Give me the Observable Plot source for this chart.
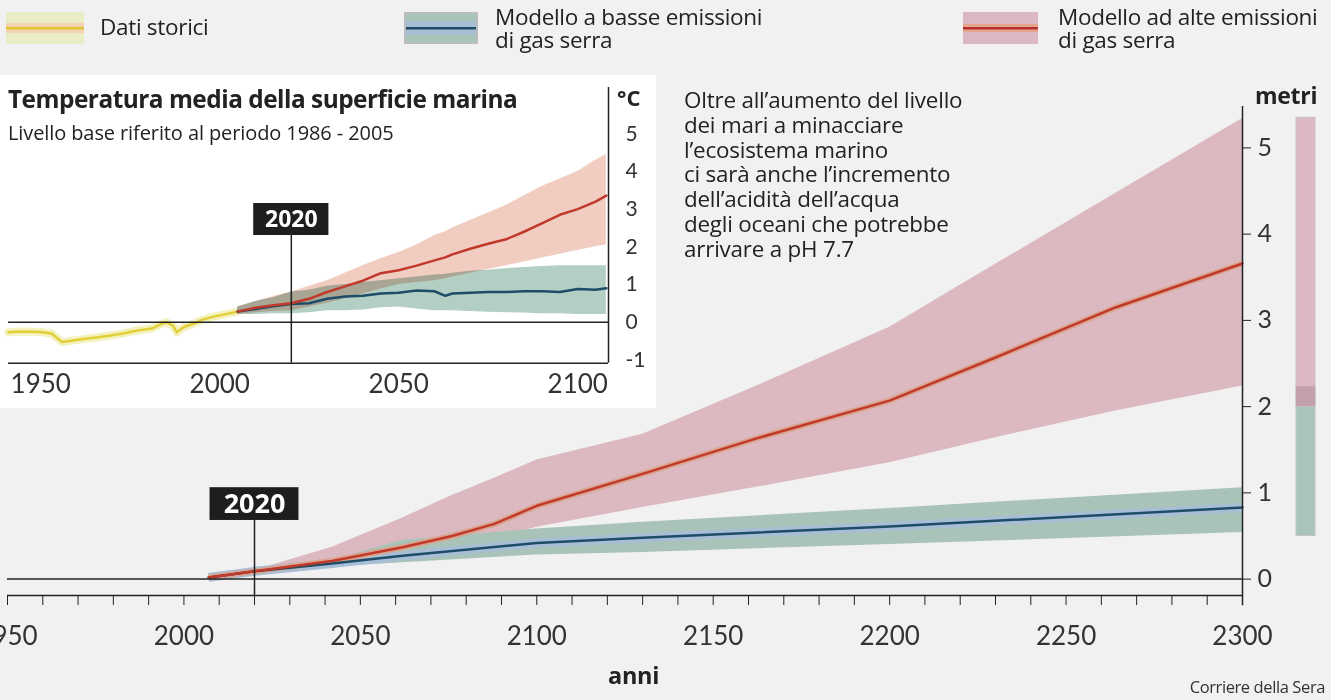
<!DOCTYPE html>
<html>
<head>
<meta charset="utf-8">
<script src="https://cdn.jsdelivr.net/npm/d3@7"></script>
<script src="https://cdn.jsdelivr.net/npm/@observablehq/plot@0.6"></script>
<style>
  html, body { margin: 0; padding: 0; background: #f1f1f1; }
  #page { position: relative; width: 1331px; height: 700px; overflow: hidden; background: #f1f1f1; font-family: "Open Sans", sans-serif; color: #222; }
  .abs { position: absolute; white-space: nowrap; }
  .leg { font-size: 22.5px; line-height: 23px; color: #222; letter-spacing: -0.3px; }
  #inset { position: absolute; left: 0; top: 75px; width: 656px; height: 333px; background: #fff; }
  #note { font-size: 22.4px; line-height: 24.8px; letter-spacing: -0.2px; }
</style>
</head>
<body>
<div id="page">
  <div id="main" class="abs" style="left:0;top:0"></div>
  <div id="inset"></div>

  <!-- legend -->
  <svg class="abs" style="left:6px;top:12px" width="78" height="32">
    <rect width="78" height="32" fill="#e8edc6"/>
    <rect y="11" width="78" height="10" fill="#f4d2b0"/>
    <rect y="15" width="78" height="2.5" fill="#e0c634"/>
  </svg>
  <div class="abs leg" style="left:100px;top:15px">Dati storici</div>

  <svg class="abs" style="left:404px;top:12px" width="74" height="32">
    <rect width="74" height="32" fill="#bdbdbd"/>
    <rect x="2" y="2" width="70" height="28" fill="#a9c4b9"/>
    <rect x="2" y="9" width="70" height="14" fill="#a7bed4"/>
    <rect x="2" y="15" width="70" height="2.5" fill="#1f4d68"/>
  </svg>
  <div class="abs leg" style="left:495px;top:5px">Modello a basse emissioni</div>
  <div class="abs leg" style="left:495px;top:28px">di gas serra</div>

  <svg class="abs" style="left:963px;top:12px" width="75" height="32">
    <rect width="75" height="32" fill="#dcb9c2"/>
    <rect y="12" width="75" height="8" fill="#e3a58e"/>
    <rect y="15" width="75" height="2.5" fill="#b8302a"/>
  </svg>
  <div class="abs leg" style="left:1058px;top:5px">Modello ad alte emissioni</div>
  <div class="abs leg" style="left:1058px;top:28px">di gas serra</div>

  <!-- inset texts -->
  <div class="abs" style="left:8px;top:82px;font-family:'Open Sans';font-weight:700;font-size:24.4px;letter-spacing:-0.5px">Temperatura media della superficie marina</div>
  <div class="abs" style="left:8px;top:119px;font-family:'Open Sans';font-size:20px;letter-spacing:-0.1px">Livello base riferito al periodo 1986 - 2005</div>
  <div class="abs" style="left:617px;top:82px;font-family:'Open Sans';font-weight:700;font-size:22px">°C</div>

  <!-- annotation -->
  <div id="note" class="abs" style="left:684px;top:88px">Oltre all’aumento del livello<br>dei mari a minacciare<br>l’ecosistema marino<br>ci sarà anche l’incremento<br>dell’acidità dell’acqua<br>degli oceani che potrebbe<br>arrivare a pH 7.7</div>

  <div class="abs" style="left:1255px;top:79px;font-weight:700;font-size:23px;letter-spacing:-0.3px">metri</div>
  <div class="abs" style="left:608px;top:659px;font-weight:700;font-size:23.5px;letter-spacing:-0.3px">anni</div>
  <div class="abs" style="right:6px;top:679px;font-size:16.5px;line-height:16.5px;letter-spacing:-0.4px;color:#333">Corriere della Sera</div>
</div>

<script>
// ---------- MAIN CHART DATA: sea level rise (metres) ----------
const yearsLow  = [2007, 2020, 2042, 2062, 2100, 2130, 2200, 2300];
const lowMid    = [0.02, 0.09, 0.18, 0.27, 0.42, 0.48, 0.61, 0.83];
const lowMin    = [0.02, 0.08, 0.14, 0.19, 0.28, 0.31, 0.40, 0.54];
const lowMax    = [0.02, 0.10, 0.22, 0.45, 0.58, 0.66, 0.82, 1.06];

const yearsHigh = [2007, 2020, 2042, 2062, 2076, 2088, 2100, 2130, 2163, 2200, 2230, 2264, 2300];
const highMid   = [0.02, 0.09, 0.21, 0.37, 0.50, 0.64, 0.85, 1.22, 1.64, 2.07, 2.57, 3.15, 3.66];
const highMin   = [0.02, 0.08, 0.17, 0.27, 0.36, 0.47, 0.60, 0.83, 1.07, 1.35, 1.64, 1.95, 2.24];
const highMax   = [0.02, 0.10, 0.37, 0.71, 0.97, 1.17, 1.38, 1.68, 2.25, 2.92, 3.65, 4.47, 5.34];

// range bar at the right (2300 ranges)
const rangeNames = ["basse emissioni", "alte emissioni"];
const rangeLo    = [0.50, 2.00];
const rangeHi    = [2.23, 5.35];

const xTicksMain  = [1950, 2000, 2050, 2100, 2150, 2200, 2250, 2300];
const yTicksMain  = [0, 1, 2, 3, 4, 5];
const markYear    = 2020;

// ---------- INSET DATA: sea surface temperature anomaly (°C) ----------
const histYears = [1941, 1945, 1950, 1953, 1956, 1958, 1962, 1966, 1969, 1973, 1977, 1981, 1983, 1985, 1987, 1988, 1990, 1993, 1995, 1998, 2001, 2005];
const histVals  = [-0.27, -0.25, -0.26, -0.30, -0.53, -0.50, -0.45, -0.40, -0.36, -0.30, -0.22, -0.17, -0.08, 0.00, -0.10, -0.27, -0.13, -0.03, 0.06, 0.14, 0.20, 0.28];

const scenYears = [2005, 2010, 2015, 2020, 2025, 2030, 2035, 2040, 2045, 2050, 2055, 2060, 2063, 2065, 2070, 2075, 2080, 2085, 2090, 2095, 2100, 2105, 2108];
const redT      = [0.28, 0.38, 0.45, 0.50, 0.62, 0.80, 0.95, 1.10, 1.30, 1.38, 1.50, 1.64, 1.72, 1.80, 1.95, 2.08, 2.20, 2.40, 2.62, 2.85, 3.00, 3.20, 3.36];
const redTlo    = [0.20, 0.25, 0.28, 0.30, 0.40, 0.50, 0.62, 0.75, 0.88, 1.00, 1.05, 1.10, 1.15, 1.20, 1.30, 1.40, 1.50, 1.60, 1.70, 1.80, 1.90, 2.00, 2.05];
const redThi    = [0.40, 0.55, 0.68, 0.80, 0.95, 1.10, 1.30, 1.50, 1.68, 1.85, 2.05, 2.30, 2.40, 2.50, 2.70, 2.90, 3.10, 3.35, 3.60, 3.80, 4.00, 4.30, 4.45];
const blueT     = [0.28, 0.35, 0.42, 0.48, 0.50, 0.62, 0.68, 0.70, 0.76, 0.78, 0.84, 0.82, 0.70, 0.76, 0.78, 0.80, 0.80, 0.82, 0.82, 0.80, 0.88, 0.86, 0.90];
const blueTlo   = [0.20, 0.20, 0.22, 0.22, 0.25, 0.30, 0.30, 0.32, 0.38, 0.40, 0.35, 0.30, 0.30, 0.30, 0.28, 0.26, 0.25, 0.24, 0.22, 0.22, 0.20, 0.20, 0.20];
const blueThi   = [0.40, 0.55, 0.65, 0.80, 0.85, 0.95, 1.00, 1.05, 1.10, 1.15, 1.20, 1.25, 1.27, 1.30, 1.35, 1.38, 1.42, 1.45, 1.48, 1.50, 1.50, 1.50, 1.50];

const xTicksInset = [1950, 2000, 2050, 2100];
const yTicksInset = [-1, 0, 1, 2, 3, 4, 5];

// ---------- build tables ----------
const lowData  = yearsLow.map((year, i) => ({year, mid: lowMid[i], lo: lowMin[i], hi: lowMax[i]}));
const highData = yearsHigh.map((year, i) => ({year, mid: highMid[i], lo: highMin[i], hi: highMax[i]}));
const ranges   = rangeNames.map((name, i) => ({name, lo: rangeLo[i], hi: rangeHi[i]}));
const overlap  = [{lo: d3.max(rangeLo), hi: d3.min(rangeHi)}];
const hist     = histYears.map((year, i) => ({year, v: histVals[i]}));
const scen     = scenYears.map((year, i) => ({year, red: redT[i], redLo: redTlo[i], redHi: redThi[i], blue: blueT[i], blueLo: blueTlo[i], blueHi: blueThi[i]}));

const ink = "#222";
const yDomMain = [-0.19, 5.48];
const xDomMain = [1950, 2300];
const barX = [2315.3, 2320.7];

const main = Plot.plot({
  width: 1331, height: 700,
  marginLeft: 7, marginRight: 89, marginTop: 106, marginBottom: 105,
  x: {domain: xDomMain, label: null},
  y: {domain: yDomMain, label: null},
  style: {background: "transparent", fontFamily: "Lato", color: ink, overflow: "visible"},
  marks: [
    Plot.areaY(highData, {x: "year", y1: "lo", y2: "hi", fill: "#dcb8c1"}),
    Plot.areaY(lowData, {x: "year", y1: "lo", y2: "hi", fill: "#a9c3b9"}),
    Plot.lineY(lowData, {x: "year", y: "mid", stroke: "#a8bed6", strokeWidth: 9, strokeLinecap: "butt"}),
    Plot.lineY(highData, {x: "year", y: "mid", stroke: "#dba48d", strokeWidth: 6, strokeLinecap: "butt"}),
    Plot.lineY(lowData, {x: "year", y: "mid", stroke: "#1f4d68", strokeWidth: 2.5}),
    Plot.lineY(highData, {x: "year", y: "mid", stroke: "#c0392b", strokeWidth: 2.5}),
    // range bar
    Plot.rect(ranges, {x1: () => barX[0], x2: () => barX[1], y1: "lo", y2: "hi",
      fill: d => d.name === "alte emissioni" ? "#dbb8c2" : "#a9c4b9", stroke: "#c6c6c6", strokeWidth: 1}),
    Plot.rect(overlap, {x1: () => barX[0], x2: () => barX[1], y1: "lo", y2: "hi", fill: "#c3a0aa"}),
    // reference lines and axes
    Plot.ruleY([0], {stroke: ink, strokeWidth: 1.5}),
    Plot.ruleY([yDomMain[0]], {stroke: ink, strokeWidth: 1.5}),
    Plot.ruleX([xDomMain[1]], {y1: -0.31, y2: yDomMain[1], stroke: ink, strokeWidth: 1.5}),
    Plot.axisX({ticks: d3.range(1950, 2301, 10), tickSize: 10, tickFormat: () => "", stroke: ink, strokeWidth: 1, label: null}),
    Plot.axisX({ticks: xTicksMain, tickSize: 0, tickPadding: 31, fontSize: 26, tickFormat: d => String(d), fill: "#333", label: null}),
    Plot.axisY({anchor: "right", ticks: yTicksMain, tickSize: 8, tickPadding: 7, fontSize: 25, tickFormat: d => String(d), fill: "#333", label: null}),
    // 2020 marker
    Plot.ruleX([markYear], {y1: yDomMain[0], y2: 0.7, stroke: ink, strokeWidth: 1.5}),
    Plot.rect([markYear], {x1: d => d - 12.6, x2: d => d + 12.6, y1: 0.68, y2: 1.06, fill: "#1e1e1e"}),
    Plot.text([markYear], {x: d => d, y: 0.87, text: d => String(d), fill: "#fff", fontSize: 27, fontWeight: "bold", fontFamily: "Open Sans"})
  ]
});
document.getElementById("main").appendChild(main);

const yDomInset = [-1.09, 6.23];
const xDomInset = [1941, 2108.6];
const inset = Plot.plot({
  width: 656, height: 333,
  marginLeft: 8, marginRight: 48, marginTop: 12, marginBottom: 45.3,
  x: {domain: xDomInset, label: null},
  y: {domain: yDomInset, label: null},
  style: {background: "transparent", fontFamily: "Lato", color: ink, overflow: "visible"},
  marks: [
    Plot.lineY(hist, {x: "year", y: "v", stroke: "#f3f1bd", strokeWidth: 8}),
    Plot.lineY(hist, {x: "year", y: "v", stroke: "#e2cf38", strokeWidth: 2.5}),
    Plot.areaY(scen, {x: "year", y1: "blueLo", y2: "blueHi", fill: "#b3cec3"}),
    Plot.areaY(scen, {x: "year", y1: "redLo", y2: "redHi", fill: "#edc3b6", fillOpacity: 0.85, mixBlendMode: "multiply"}),
    Plot.lineY(scen, {x: "year", y: "blue", stroke: "#1f4d68", strokeWidth: 2.5}),
    Plot.lineY(scen, {x: "year", y: "red", stroke: "#c0392b", strokeWidth: 2.5}),
    Plot.ruleY([0], {stroke: ink, strokeWidth: 1.5}),
    Plot.ruleY([yDomInset[0]], {stroke: ink, strokeWidth: 1.5}),
    Plot.ruleX([xDomInset[1]], {y1: yDomInset[0], y2: yDomInset[1], stroke: ink, strokeWidth: 1.5}),
    Plot.axisX({ticks: xTicksInset, tickSize: 0, tickPadding: 11, fontSize: 26, tickFormat: d => String(d), fill: "#333", label: null}),
    Plot.axisY({anchor: "right", ticks: yTicksInset, tickSize: 0, tickPadding: 17, fontSize: 21, tickFormat: d => String(d), fill: "#333", label: null}),
    Plot.ruleX([markYear], {y1: yDomInset[0], y2: 2.3, stroke: ink, strokeWidth: 1.5}),
    Plot.rect([markYear], {x1: d => d - 10.5, x2: d => d + 10.5, y1: 2.3, y2: 3.15, fill: "#1e1e1e"}),
    Plot.text([markYear], {x: d => d, y: 2.72, text: d => String(d), fill: "#fff", fontSize: 23, fontWeight: "bold", fontFamily: "Open Sans"})
  ]
});
document.getElementById("inset").appendChild(inset);
</script>
</body>
</html>
